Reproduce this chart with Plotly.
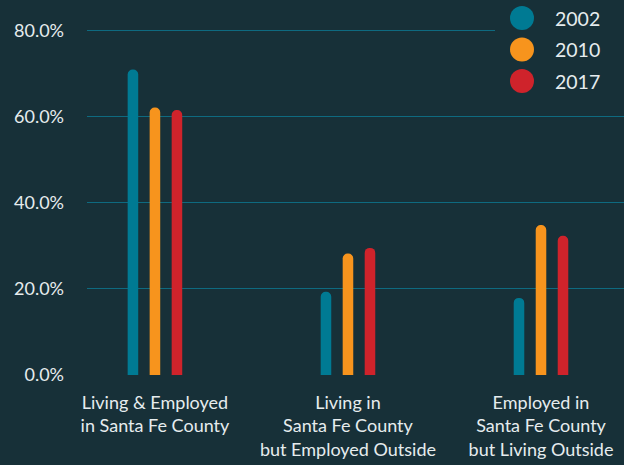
import plotly.graph_objects as go

categories = [
    "Living & Employed<br>in Santa Fe County",
    "Living in<br>Santa Fe County<br>but Employed Outside",
    "Employed in<br>Santa Fe County<br>but Living Outside",
]
years = ["2002", "2010", "2017"]
share_2002 = [70.9, 19.3, 17.9]
share_2010 = [62.1, 28.2, 34.8]
share_2017 = [61.5, 29.5, 32.3]
y_ticks = [0, 20, 40, 60, 80]
y_labels = ["0.0%", "20.0%", "40.0%", "60.0%", "80.0%"]

bg = "#173038"
grid = "#0e6a80"
text_color = "#e6ecee"
colors = ["#007a93", "#f7941d", "#cf232b"]

fig = go.Figure()
for year, vals, col in zip(years, [share_2002, share_2010, share_2017], colors):
    fig.add_trace(go.Bar(
        x=categories, y=vals, name=year,
        marker=dict(color=col, cornerradius=5, line=dict(width=0)),
        showlegend=False,
    ))

# legend drawn by hand so the dots can be large
W, H = 624, 465
ml, mr, mt, mb = 87, 0, 26, 90
pw, ph = W - ml - mr, H - mt - mb


def px(x):
    return (x - ml) / pw


def py(y):
    return (H - mb - y) / ph


fig.add_shape(type="rect", xref="paper", yref="paper",
              x0=px(495), x1=1, y0=py(100), y1=py(0),
              fillcolor=bg, line=dict(width=0), layer="above")
for i, (year, col) in enumerate(zip(years, colors)):
    cy = py(18 + i * 31.5)
    fig.add_shape(type="circle", xref="paper", yref="paper",
                  xsizemode="pixel", ysizemode="pixel",
                  xanchor=px(522), yanchor=cy,
                  x0=-12, x1=12, y0=-12, y1=12,
                  fillcolor=col, line=dict(width=0), layer="above")
    fig.add_annotation(x=px(553), y=cy, xref="paper", yref="paper",
                       text=year, showarrow=False, xanchor="left", yanchor="middle",
                       font=dict(size=19.5, color=text_color))

fig.update_layout(
    width=W, height=H,
    margin=dict(l=ml, r=mr, t=mt, b=mb),
    paper_bgcolor=bg, plot_bgcolor=bg,
    font=dict(family="Lato", size=18, color=text_color),
    barmode="group", bargap=0.658, bargroupgap=0.52,
)
fig.update_xaxes(range=[-0.352, 2.43], showgrid=False, zeroline=False,
                 showline=False, ticks="", tickfont=dict(size=18),
                 ticklabelstandoff=15)
fig.update_yaxes(range=[0, 81], tickvals=y_ticks, ticktext=y_labels,
                 showgrid=True, gridcolor=grid, gridwidth=1,
                 zeroline=False, showline=False, ticklabelstandoff=22,
                 tickfont=dict(size=18))

fig.write_html("out.html", config={"displayModeBar": False},
               post_script="document.body.style.margin='0';")
